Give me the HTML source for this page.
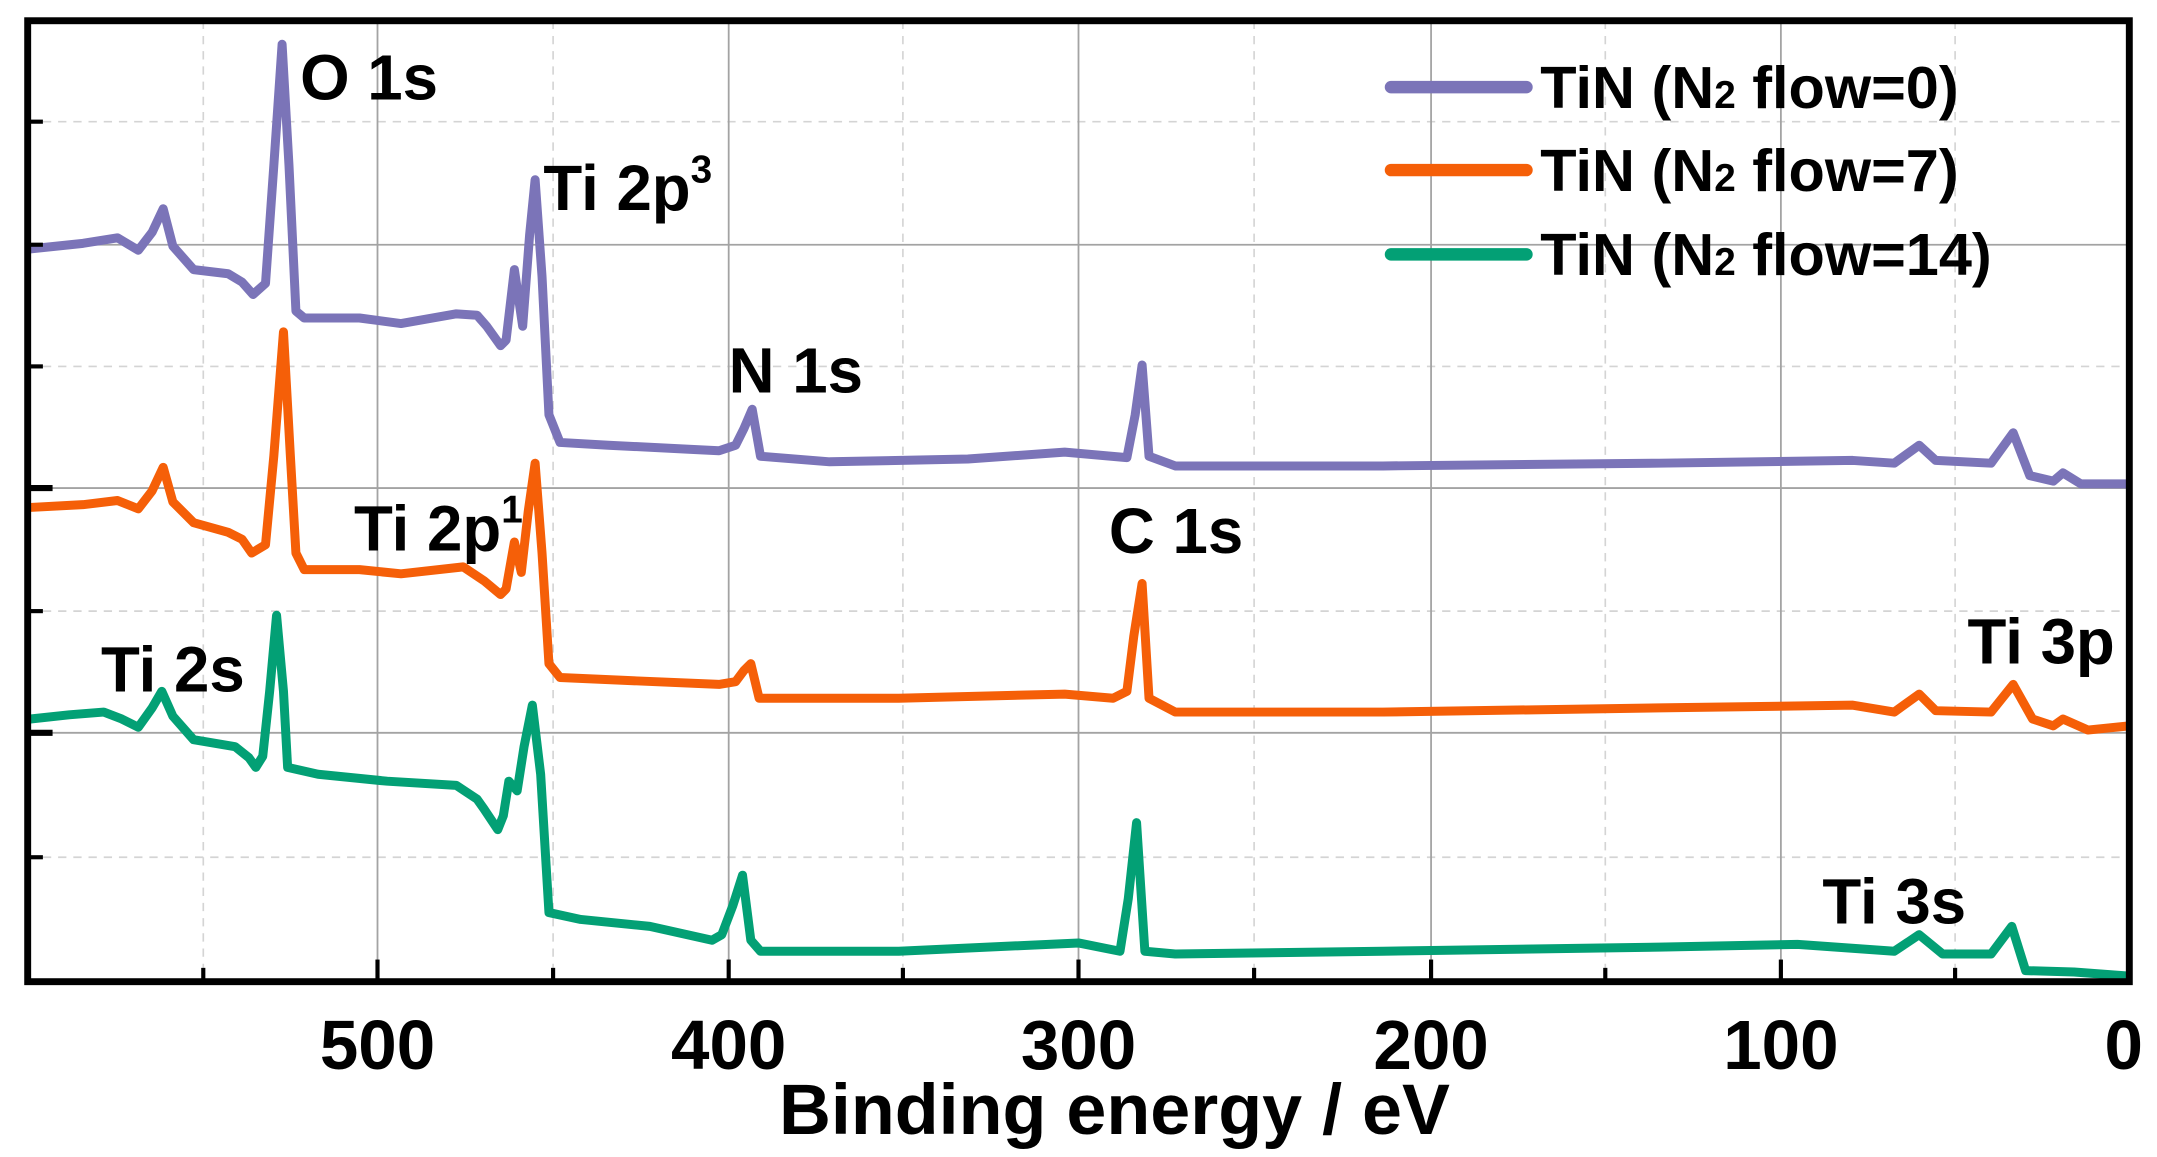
<!DOCTYPE html>
<html><head><meta charset="utf-8"><style>
html,body{margin:0;padding:0;background:#fff;}
svg{display:block;}
text{font-family:"Liberation Sans",Arial,sans-serif;font-weight:bold;fill:#000;}
</style></head><body>
<svg width="2157" height="1157" viewBox="0 0 1560 836.8" xmlns="http://www.w3.org/2000/svg">
<defs><clipPath id="c"><rect x="20" y="15" width="1520" height="695"/></clipPath></defs>
<g stroke="#d4d4d4" stroke-width="1.2" stroke-dasharray="6,5">
<line x1="147" y1="15" x2="147" y2="710"/><line x1="400" y1="15" x2="400" y2="710"/><line x1="653" y1="15" x2="653" y2="710"/><line x1="907" y1="15" x2="907" y2="710"/><line x1="1161" y1="15" x2="1161" y2="710"/><line x1="1414" y1="15" x2="1414" y2="710"/>
<line x1="20" y1="88" x2="1540" y2="88"/><line x1="20" y1="265" x2="1540" y2="265"/><line x1="20" y1="442" x2="1540" y2="442"/><line x1="20" y1="620" x2="1540" y2="620"/>
</g>
<g stroke="#a3a3a3" stroke-width="1.3">
<line x1="273" y1="15" x2="273" y2="710"/><line x1="527" y1="15" x2="527" y2="710"/><line x1="780" y1="15" x2="780" y2="710"/><line x1="1035" y1="15" x2="1035" y2="710"/><line x1="1288" y1="15" x2="1288" y2="710"/>
<line x1="20" y1="177" x2="1540" y2="177"/><line x1="20" y1="353" x2="1540" y2="353"/><line x1="20" y1="530" x2="1540" y2="530"/>
</g>
<g clip-path="url(#c)" fill="none" stroke-width="6.5" stroke-linejoin="round" stroke-linecap="round">
<polyline stroke="#7b74b8" points="22,180 60,176 85,172 100,181 110,168 118,151 125,178 140,195 165,198 175,204 183,213 192,205 198,120 204,32 209,120 214,225 220,230 260,230 290,234 330,227 345,228 352,236 362,250 366,246 372,195 378,236 383,170 387,130 392,200 397,300 405,320 440,322 500,325 520,326 532,322 538,310 544,296 550,330 600,334 700,332 770,327 815,331 821,300 826,264 831,330 850,337 1000,337 1200,335 1340,333 1370,335 1388,322 1400,333 1440,335 1456,313 1468,344 1485,348 1492,342 1505,350 1540,350"/>
<polyline stroke="#f55f08" points="22,367 60,365 85,362 100,368 110,355 118,338 125,363 140,378 165,385 175,390 182,400 192,394 198,330 205,240 210,330 214,400 220,412 260,412 290,415 335,410 350,420 362,430 366,426 372,392 377,414 382,370 387,335 392,400 397,480 405,490 450,492 520,495 532,493 538,485 543,480 549,505 650,505 770,502 805,505 815,500 820,460 826,422 831,505 850,515 1000,515 1200,512 1340,510 1370,515 1388,502 1400,514 1440,515 1456,495 1470,520 1485,525 1492,520 1510,528 1540,525"/>
<polyline stroke="#03a075" points="22,520 50,517 75,515 88,520 100,526 110,512 117,500 125,518 140,535 170,540 180,548 185,555 190,547 195,500 200,445 205,500 208,555 230,560 280,565 330,568 345,578 350,585 360,600 364,590 368,565 374,572 379,540 385,510 391,560 397,660 420,665 470,670 515,680 522,676 530,655 537,633 543,680 550,688 650,688 780,682 810,688 816,650 822,595 828,688 850,690 1000,688 1200,685 1300,683 1370,688 1388,676 1405,690 1440,690 1455,670 1465,702 1500,703 1540,706"/>
</g>
<g stroke="#000" stroke-width="3" fill="none">
<line x1="147" y1="710" x2="147" y2="700"/><line x1="400" y1="710" x2="400" y2="700"/><line x1="653" y1="710" x2="653" y2="700"/><line x1="907" y1="710" x2="907" y2="700"/><line x1="1161" y1="710" x2="1161" y2="700"/><line x1="1414" y1="710" x2="1414" y2="700"/>
<line x1="273" y1="710" x2="273" y2="694"/><line x1="527" y1="710" x2="527" y2="694"/><line x1="780" y1="710" x2="780" y2="694"/><line x1="1035" y1="710" x2="1035" y2="694"/><line x1="1288" y1="710" x2="1288" y2="694"/>
<line x1="20" y1="88" x2="31" y2="88"/><line x1="20" y1="177" x2="31" y2="177"/><line x1="20" y1="265" x2="31" y2="265"/><line x1="20" y1="442" x2="31" y2="442"/><line x1="20" y1="620" x2="31" y2="620"/>
<line x1="20" y1="353" x2="38" y2="353" stroke-width="4.5"/><line x1="20" y1="530" x2="38" y2="530" stroke-width="4.5"/>
<rect x="20" y="15" width="1520" height="695" stroke-width="5"/>
</g>
<g font-size="50" text-anchor="middle">
<text x="273" y="773">500</text><text x="527" y="773">400</text><text x="780" y="773">300</text><text x="1035" y="773">200</text><text x="1288" y="773">100</text><text x="1536" y="773">0</text>
</g>
<text x="806" y="820" font-size="52" text-anchor="middle">Binding energy / eV</text>
<g font-size="46">
<text x="217" y="72">O 1s</text>
<text x="393" y="152">Ti 2p<tspan font-size="28" dy="-20">3</tspan></text>
<text x="527" y="284">N 1s</text>
<text x="256" y="398">Ti 2p<tspan font-size="28" dy="-20">1</tspan></text>
<text x="802" y="400">C 1s</text>
<text x="73" y="500">Ti 2s</text>
<text x="1423" y="480">Ti 3p</text>
<text x="1318" y="668">Ti 3s</text>
</g>
<g stroke-width="9" stroke-linecap="round">
<line x1="1006" y1="63" x2="1104" y2="63" stroke="#7b74b8"/>
<line x1="1006" y1="123" x2="1104" y2="123" stroke="#f55f08"/>
<line x1="1006" y1="184" x2="1104" y2="184" stroke="#03a075"/>
</g>
<g font-size="43">
<text x="1114" y="78">TiN (N<tspan font-size="28">2</tspan> flow=0)</text>
<text x="1114" y="138">TiN (N<tspan font-size="28">2</tspan> flow=7)</text>
<text x="1114" y="199">TiN (N<tspan font-size="28">2</tspan> flow=14)</text>
</g>
</svg>
</body></html>
